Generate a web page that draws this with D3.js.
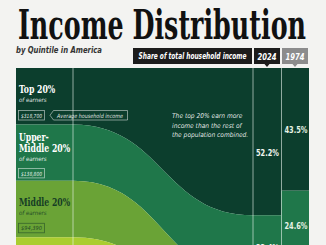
<!DOCTYPE html>
<html><head><meta charset="utf-8">
<script src="https://cdn.jsdelivr.net/npm/d3@7"></script>
<style>
html,body{margin:0;padding:0;background:#f3f3f1;}
svg{display:block;}
</style></head>
<body>
<svg id="c" width="326" height="245"></svg>
<script>
const categories = ["Top 20%", "Upper-Middle 20%", "Middle 20%", "Lower-Middle 20%", "Bottom 20%"];
const labelLines = [["Top 20%"], ["Upper-", "Middle 20%"], ["Middle 20%"], ["Lower-", "Middle 20%"], ["Bottom 20%"]];
const populationShare = [20, 20, 20, 20, 20];
const share2024 = [52.2, 22.4, 14.1, 8.2, 3.1];
const share1974 = [43.5, 24.6, 17.0, 10.6, 4.3];
const avgIncome = ["$318,700", "$138,800", "$94,390", "$55,470", "$17,650"];
const years = ["2024", "1974"];

const colors = ["#0c3e2d", "#1f774a", "#6aa336", "#aacd30", "#d4e36a"];
const textColors = ["#ffffff", "#ffffff", "#163d25", "#163d25", "#163d25"];

const svg = d3.select("#c");
const panelTop = 68, panelH = 282;
const xL = 16, xLab = 73, xFlowEnd = 253, x24End = 281, x74Start = 282, xR = 309;

const y = d3.scaleLinear().domain([0, 100]).range([panelTop, panelTop + panelH]);

function cum(arr){ let s=0; return arr.map(v=>{const a=s; s+=v; return [a,s];}); }
const cPop = cum(populationShare), c24 = cum(share2024), c74 = cum(share1974);

const serif = "DejaVu Serif Condensed, DejaVu Serif";
const sans = "DejaVu Sans Condensed, DejaVu Sans";

// title
svg.append("text").attr("x", 18).attr("y", 39)
  .attr("font-family", serif).attr("font-weight", "bold")
  .attr("font-size", 41).attr("fill", "#111")
  .attr("textLength", 288).attr("lengthAdjust", "spacingAndGlyphs")
  .text("Income Distribution");
svg.append("text").attr("x", 16).attr("y", 53)
  .attr("font-family", sans).attr("font-weight", "bold")
  .attr("font-style", "italic").attr("font-size", 9).attr("fill", "#333")
  .attr("textLength", 86).attr("lengthAdjust", "spacingAndGlyphs")
  .text("by Quintile in America");

// header boxes
const hdr = svg.append("g");
hdr.append("rect").attr("x", 133).attr("y", 48).attr("width", 119).attr("height", 16).attr("fill", "#1c1c1c");
hdr.append("text").attr("x", 192.5).attr("y", 59).attr("text-anchor", "middle")
  .attr("font-family", sans).attr("font-weight", "bold").attr("font-style", "italic")
  .attr("font-size", 8).attr("fill", "#fff").attr("textLength", 108).attr("lengthAdjust", "spacingAndGlyphs")
  .text("Share of total household income");
const yearBoxes = [{x:254, w:26, fill:"#1c1c1c"}, {x:282, w:26, fill:"#8c8c8c"}];
yearBoxes.forEach((b,i)=>{
  hdr.append("rect").attr("x", b.x).attr("y", 48).attr("width", b.w).attr("height", 16).attr("fill", b.fill);
  hdr.append("path").attr("d", `M${b.x+b.w/2-2.5},64 L${b.x+b.w/2+2.5},64 L${b.x+b.w/2},67 Z`).attr("fill", b.fill);
  hdr.append("text").attr("x", b.x+b.w/2).attr("y", 59.5).attr("text-anchor", "middle")
    .attr("font-family", sans).attr("font-weight", "bold").attr("font-style","italic")
    .attr("font-size", 8.5).attr("fill", "#fff")
    .attr("textLength", 19).attr("lengthAdjust", "spacingAndGlyphs").text(years[i]);
});

// panel clip
const defs = svg.append("defs");
defs.append("clipPath").attr("id", "pc").append("rect")
  .attr("x", xL).attr("y", panelTop).attr("width", xR - xL).attr("height", panelH);
const panel = svg.append("g").attr("clip-path", "url(#pc)");

const area = d3.area().x(d=>d.x).y0(d=>y(d.a)).y1(d=>y(d.b)).curve(d3.curveBumpX);
categories.forEach((c,i)=>{
  const pts = [
    {x:xL, a:cPop[i][0], b:cPop[i][1]},
    {x:xLab, a:cPop[i][0], b:cPop[i][1]},
    {x:xFlowEnd, a:c24[i][0], b:c24[i][1]},
    {x:x24End+1, a:c24[i][0], b:c24[i][1]}
  ];
  panel.append("path").attr("d", area(pts)).attr("fill", colors[i]);
  panel.append("rect").attr("x", x74Start-1).attr("y", y(c74[i][0]))
    .attr("width", xR - x74Start + 1).attr("height", y(c74[i][1]) - y(c74[i][0])).attr("fill", colors[i]);
});

// dividers
[xLab, xFlowEnd, x24End + 0.5].forEach(x=>{
  panel.append("line").attr("x1", x).attr("x2", x).attr("y1", panelTop).attr("y2", panelTop+panelH)
    .attr("stroke", "rgba(235,245,238,0.6)").attr("stroke-width", 1);
});

// left labels
const labG = panel.append("g");
categories.forEach((c,i)=>{
  const top = y(cPop[i][0]);
  const lines = labelLines[i];
  const base = top + 25 - (lines.length-1)*8;
  lines.forEach((l,j)=>{
    const t = labG.append("text").attr("x", 19).attr("y", base + j*11)
      .attr("font-family", serif).attr("font-weight", "bold")
      .attr("font-size", 10.5).attr("fill", textColors[i]).text(l);
    const len = t.node().getComputedTextLength();
    t.attr("textLength", len*0.82).attr("lengthAdjust", "spacingAndGlyphs");
  });
  const after = base + (lines.length-1)*11;
  labG.append("text").attr("x", 19).attr("y", after + 9)
    .attr("font-family", sans).attr("font-style", "italic")
    .attr("font-size", 6).attr("fill", textColors[i]).attr("fill-opacity", 0.9).text("of earners");
  const by = after + (lines.length > 1 ? 16.5 : 18);
  labG.append("rect").attr("x", 18.5).attr("y", by - 0.5).attr("width", 26).attr("height", 9.5)
    .attr("fill", "none").attr("stroke", textColors[i]).attr("stroke-opacity", 0.6).attr("stroke-width", 0.8);
  labG.append("text").attr("x", 31.5).attr("y", by + 6.6).attr("text-anchor", "middle")
    .attr("font-family", sans).attr("font-style", "italic")
    .attr("font-size", 5.6).attr("fill", textColors[i]).attr("fill-opacity", 0.9)
    .attr("textLength", 21).attr("lengthAdjust", "spacingAndGlyphs").text(avgIncome[i]);
  if (i === 0) {
    labG.append("path").attr("d", `M53.5,${by-0.5} L127.5,${by-0.5} L127.5,${by+9} L53.5,${by+9} L50,${by+4.25} Z`)
      .attr("fill", "none").attr("stroke", "#fff").attr("stroke-opacity", 0.6).attr("stroke-width", 0.8);
    labG.append("text").attr("x", 90).attr("y", by + 6.6).attr("text-anchor", "middle")
      .attr("font-family", sans).attr("font-style", "italic")
      .attr("font-size", 5.8).attr("fill", "#fff").attr("fill-opacity", 0.9)
      .attr("textLength", 66).attr("lengthAdjust", "spacingAndGlyphs").text("Average household income");
  }
});

// annotation
["The top 20% earn more", "income than the rest of", "the population combined."].forEach((t,j)=>{
  panel.append("text").attr("x", 172).attr("y", 118 + j*9.5)
    .attr("font-family", sans).attr("font-style", "italic")
    .attr("font-size", 6.6).attr("fill", "#fff").attr("fill-opacity", 0.9).text(t);
});

// percentage labels
categories.forEach((c,i)=>{
  const m24 = (y(c24[i][0]) + y(c24[i][1]))/2 + (i===0 ? 14 : 4);
  const m74 = (y(c74[i][0]) + y(c74[i][1]))/2 + 4;
  panel.append("text").attr("x", (xFlowEnd + x24End)/2 + 0.5).attr("y", m24).attr("text-anchor", "middle")
    .attr("font-family", sans).attr("font-weight", "bold").attr("font-size", 9.5)
    .attr("textLength", 23).attr("lengthAdjust", "spacingAndGlyphs")
    .attr("fill", i < 2 ? "#f2f7f0" : "#163d25").text(share2024[i].toFixed(1) + "%");
  panel.append("text").attr("x", (x74Start + xR)/2 + 0.5).attr("y", m74).attr("text-anchor", "middle")
    .attr("font-family", sans).attr("font-weight", "bold").attr("font-size", 9.5)
    .attr("textLength", 23).attr("lengthAdjust", "spacingAndGlyphs")
    .attr("fill", i < 2 ? "#e6f2e4" : "#163d25").text(share1974[i].toFixed(1) + "%");
});
</script>
</body></html>
